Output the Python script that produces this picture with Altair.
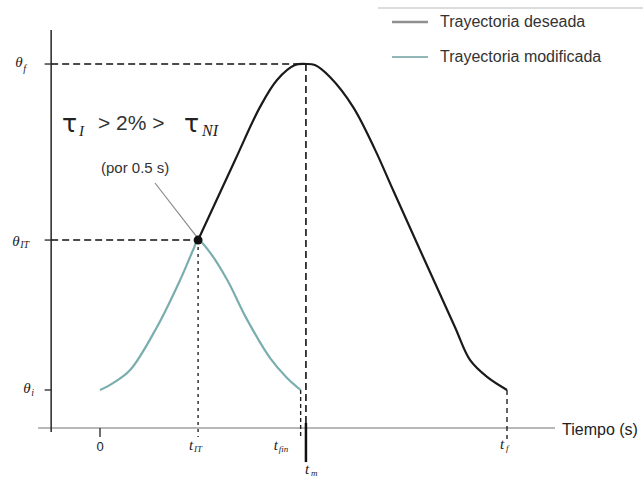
import altair as alt
import pandas as pd

# Desired trajectory (black): time [s] and joint angle [deg]
t_des = [2.41, 3.32, 3.93, 4.35, 4.79, 5.06, 5.28, 5.65, 6.22, 6.76, 7.20, 8.03, 8.72, 9.09, 9.51, 10.0]
th_des = [41.4, 63.5, 78.1, 85.6, 89.7, 90.0, 89.7, 86.4, 78.1, 66.3, 55.2, 34.5, 17.4, 8.3, 3.6, 0.0]

# Modified trajectory (teal): back to the initial angle after the interruption
t_mod = [0.0, 0.32, 0.74, 1.40, 1.97, 2.29, 2.41, 2.70, 3.12, 3.61, 4.18, 4.59, 4.93]
th_mod = [0.0, 1.9, 5.5, 17.4, 30.4, 38.7, 41.4, 38.0, 30.5, 19.5, 8.8, 3.4, 0.0]

# Key instants and angles
T_0, T_IT, T_FIN, T_M, T_F = 0.0, 2.41, 4.93, 5.06, 10.0
TH_I, TH_IT, TH_F = 0.0, 41.4, 90.0

# Canvas and scale mapping (pixels per unit)
W, H = 643, 481
X0, KX = 100, 40.7
Y0, KY = 390, 3.622
x_dom = [-X0 / KX, (W - X0) / KX]
y_dom = [(Y0 - H) / KY, Y0 / KY]

# Axis positions, in data units
T_AX = -1.2
TH_AX = -10.5

xs = alt.Scale(domain=x_dom, nice=False, zero=False)
ys = alt.Scale(domain=y_dom, nice=False, zero=False)


def seg_layer(rows, color="#111", width=1.5, dash=None):
    df = pd.DataFrame(rows, columns=["t1", "t2", "th1", "th2"])
    kw = dict(color=color, strokeWidth=width)
    if dash:
        kw["strokeDash"] = dash
    return alt.Chart(df).mark_rule(**kw).encode(
        x=alt.X("t1:Q", scale=xs, axis=None),
        x2="t2:Q",
        y=alt.Y("th1:Q", scale=ys, axis=None),
        y2="th2:Q",
    )


def text_layer(text, t, th, dx=0, dy=0, size=13, font="Liberation Sans",
               style="normal", align="left", color="#222", weight="normal"):
    df = pd.DataFrame({"t": [t], "th": [th], "s": [text]})
    return alt.Chart(df).mark_text(
        dx=dx, dy=dy, fontSize=size, font=font, fontStyle=style, align=align,
        baseline="middle", color=color, fontWeight=weight,
    ).encode(
        x=alt.X("t:Q", scale=xs, axis=None),
        y=alt.Y("th:Q", scale=ys, axis=None),
        text="s:N",
    )


layers = []

# Axes
layers.append(seg_layer([[-1.52, 11.18, TH_AX, TH_AX]], color="#a0a0a0", width=1.5))
layers.append(seg_layer([[T_AX, T_AX, -11.6, 99.4]], color="#333", width=1.6))
layers.append(seg_layer([[-1.36, T_AX, v, v] for v in (TH_F, TH_IT, TH_I)], color="#333", width=1.4))
layers.append(seg_layer([[T_0, T_0, TH_AX, TH_AX - 2.5]], color="#333", width=1.4))

# Reference dashed lines
layers.append(seg_layer([[T_AX, T_M, TH_F, TH_F], [T_AX, T_IT, TH_IT, TH_IT],
                         [T_M, T_M, TH_F, TH_AX]], color="#111", width=1.6, dash=[7, 4]))
layers.append(seg_layer([[T_IT, T_IT, TH_IT, TH_AX - 2.5]], color="#222", width=1.4, dash=[3, 4]))
layers.append(seg_layer([[T_FIN, T_FIN, TH_I, TH_AX - 2.5]], color="#222", width=1.4, dash=[4, 3]))
layers.append(seg_layer([[T_F, T_F, TH_I, TH_AX - 3.0]], color="#222", width=1.4, dash=[5, 4]))
layers.append(seg_layer([[T_M, T_M, TH_AX + 1.4, TH_AX - 9.4]], color="#111", width=2.5))

# Trajectories
mod_df = pd.DataFrame({"t": t_mod, "th": th_mod})
des_df = pd.DataFrame({"t": t_des, "th": th_des})
layers.append(alt.Chart(mod_df).mark_line(color="#7aaeae", strokeWidth=2.2, interpolate="catmull-rom").encode(
    x=alt.X("t:Q", scale=xs, axis=None), y=alt.Y("th:Q", scale=ys, axis=None)))
layers.append(alt.Chart(des_df).mark_line(color="#1a1a1a", strokeWidth=2.2, interpolate="catmull-rom").encode(
    x=alt.X("t:Q", scale=xs, axis=None), y=alt.Y("th:Q", scale=ys, axis=None)))

# Leader line and interruption point
layers.append(seg_layer([[1.351, 2.383, 57.15, 42.24]], color="#8a8a8a", width=1.2))
layers.append(alt.Chart(pd.DataFrame({"t": [T_IT], "th": [TH_IT]})).mark_point(
    shape="circle", filled=True, size=80, color="#111", opacity=1).encode(
    x=alt.X("t:Q", scale=xs, axis=None), y=alt.Y("th:Q", scale=ys, axis=None)))

SERIF = "Liberation Serif"
# Y-axis labels
layers += [
    text_layer("θ", T_AX, TH_F, dx=-36, dy=-2, size=15, font=SERIF, style="italic"),
    text_layer("f", T_AX, TH_F, dx=-28, dy=5, size=10, font=SERIF, style="italic"),
    text_layer("θ", T_AX, TH_IT, dx=-39, dy=1, size=15, font=SERIF, style="italic"),
    text_layer("IT", T_AX, TH_IT, dx=-31, dy=5, size=10, font=SERIF, style="italic"),
    text_layer("θ", T_AX, TH_I, dx=-28, dy=-2, size=15, font=SERIF, style="italic"),
    text_layer("i", T_AX, TH_I, dx=-20, dy=3, size=10, font=SERIF, style="italic"),
]
# X-axis labels
layers += [
    text_layer("0", T_0, TH_AX, dy=19, size=13, align="center"),
    text_layer("t", T_IT, TH_AX, dx=-9, dy=17, size=15, font=SERIF, style="italic"),
    text_layer("IT", T_IT, TH_AX, dx=-4, dy=21, size=9, font=SERIF, style="italic"),
    text_layer("t", T_FIN, TH_AX, dx=-27, dy=17, size=15, font=SERIF, style="italic"),
    text_layer("fin", T_FIN, TH_AX, dx=-22, dy=21, size=9, font=SERIF, style="italic"),
    text_layer("t", T_M, TH_AX, dx=-1, dy=41, size=15, font=SERIF, style="italic"),
    text_layer("m", T_M, TH_AX, dx=5, dy=45, size=9, font=SERIF, style="italic"),
    text_layer("t", T_F, TH_AX, dx=-7, dy=16, size=15, font=SERIF, style="italic"),
    text_layer("f", T_F, TH_AX, dx=-1, dy=20, size=9, font=SERIF, style="italic"),
    text_layer("Tiempo (s)", 11.18, TH_AX, dx=7, dy=2, size=16),
]

# Annotation: torque condition
A_T, A_TH = (62 - X0) / KX, (Y0 - 124) / KY
layers += [
    text_layer("τ", A_T, A_TH, dx=0, dy=0, size=25, font="DejaVu Sans"),
    text_layer("I", A_T, A_TH, dx=17, dy=7, size=15, font=SERIF, style="italic"),
    text_layer("> 2% >", A_T, A_TH, dx=36, dy=0, size=21, color="#333"),
    text_layer("τ", A_T, A_TH, dx=122, dy=0, size=25, font="DejaVu Sans"),
    text_layer("NI", A_T, A_TH, dx=140, dy=7, size=16, font=SERIF, style="italic"),
    text_layer("(por 0.5 s)", A_T, A_TH, dx=39, dy=44, size=15, color="#333"),
]

# Legend (top right)
legend_rules = pd.DataFrame({
    "x1": [378, 392, 392], "x2": [643, 428, 428], "y": [8, 22, 57],
    "c": ["#d0d0d0", "#909090", "#6f9f9f"], "w": [1.5, 2.5, 1.6],
})
for _, r in legend_rules.iterrows():
    layers.append(alt.Chart(pd.DataFrame({"a": [0]})).mark_rule(
        color=r["c"], strokeWidth=float(r["w"])).encode(
        x=alt.value(float(r["x1"])), x2=alt.value(float(r["x2"])), y=alt.value(float(r["y"]))))
for label, yy in (("Trayectoria deseada", 22), ("Trayectoria modificada", 57)):
    layers.append(alt.Chart(pd.DataFrame({"s": [label]})).mark_text(
        align="left", baseline="middle", fontSize=16, font="Liberation Sans", color="#333").encode(
        x=alt.value(440), y=alt.value(yy), text="s:N"))

chart = alt.layer(*layers).properties(
    width=W, height=H, autosize=alt.AutoSizeParams(type="none"), padding=0,
    background="white",
).configure_view(stroke=None)

chart.save("out.html", embed_options={"renderer": "svg", "actions": False})
